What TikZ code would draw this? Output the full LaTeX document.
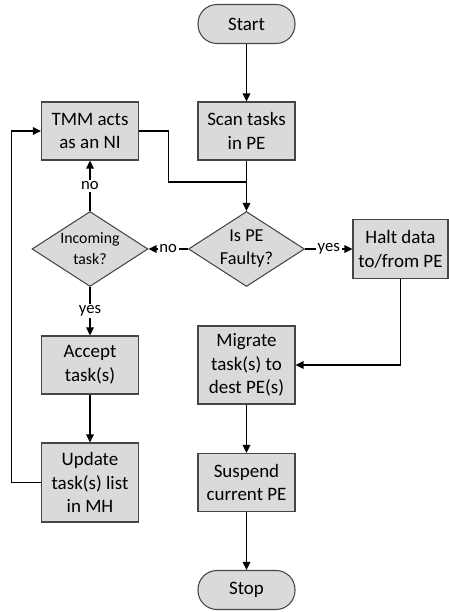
\documentclass[tikz,border=0pt]{standalone}
\usepackage{fontspec}
\setmainfont{Carlito}
\usetikzlibrary{shapes.geometric,arrows.meta}
\definecolor{boxgray}{RGB}{218,218,220}
\definecolor{edgegray}{RGB}{70,70,70}
\tikzset{
	process/.style={rectangle, draw=edgegray, fill=boxgray, line width=0.6pt, minimum width=1.94cm, minimum height=1.16cm, align=center, inner sep=1pt, font=\fontsize{10.8}{13.5}\selectfont},
	terminal/.style={process, rounded corners=0.38cm, minimum height=0.78cm},
	decision/.style={diamond, draw=edgegray, fill=boxgray, line width=0.6pt, minimum width=2.32cm, minimum height=1.5cm, inner sep=0pt},
	lbl/.style={fill=white, inner sep=1pt, font=\fontsize{9.5}{11}\selectfont}
}
\begin{document}
\begin{tikzpicture}[line width=0.7pt, >={Triangle[length=1.6mm,width=1.5mm]}]
	\useasboundingbox (0,0) rectangle (8.98,12.24);
	% right column
	\node[terminal] (start) at (4.93,11.76) {Start};
	\node[process] (scan) at (4.93,9.62) {Scan tasks\\in PE};
	\node[decision, label={[align=center, font=\fontsize{10.4}{13}\selectfont]center:Is PE\\Faulty?}] (pe) at (4.93,7.26) {};
	\node[process, minimum width=1.9cm, minimum height=1.18cm] (halt) at (8.01,7.26) {Halt data\\to/from PE};
	\node[process, minimum height=1.56cm] (mig) at (4.93,4.94) {Migrate\\task(s) to\\dest PE(s)};
	\node[process] (sus) at (4.93,2.59) {Suspend\\current PE};
	\node[terminal] (stop) at (4.93,0.44) {Stop};
	% left column
	\node[process] (tmm) at (1.80,9.62) {TMM acts\\as an NI};
	\node[decision, label={[align=center, font=\fontsize{9}{12}\selectfont]center:Incoming\\task?}] (inc) at (1.80,7.26) {};
	\node[process] (acc) at (1.80,4.94) {Accept\\task(s)};
	\node[process, minimum height=1.58cm] (upd) at (1.80,2.59) {Update\\task(s) list\\in MH};
	\coordinate (join) at (4.93,8.6);
	% connectors
	\draw[->] (start) -- (scan);
	\draw[->] (scan) -- (pe);
	\draw (tmm.east) -- ++(0.59,0) |- (join);
	\draw[->] (pe) -- node[lbl]{no} (inc);
	\draw[->] (pe) -- node[lbl]{yes} (halt);
	\draw[->] (inc) -- node[lbl]{no} (tmm);
	\draw[->] (inc) -- node[lbl]{yes} (acc);
	\draw[->] (halt) |- (mig);
	\draw[->] (mig) -- (sus);
	\draw[->] (sus) -- (stop);
	\draw[->] (acc) -- (upd);
	\draw[->] (upd.west) -- ++(-0.59,0) |- (tmm.west);
\end{tikzpicture}
\end{document}
